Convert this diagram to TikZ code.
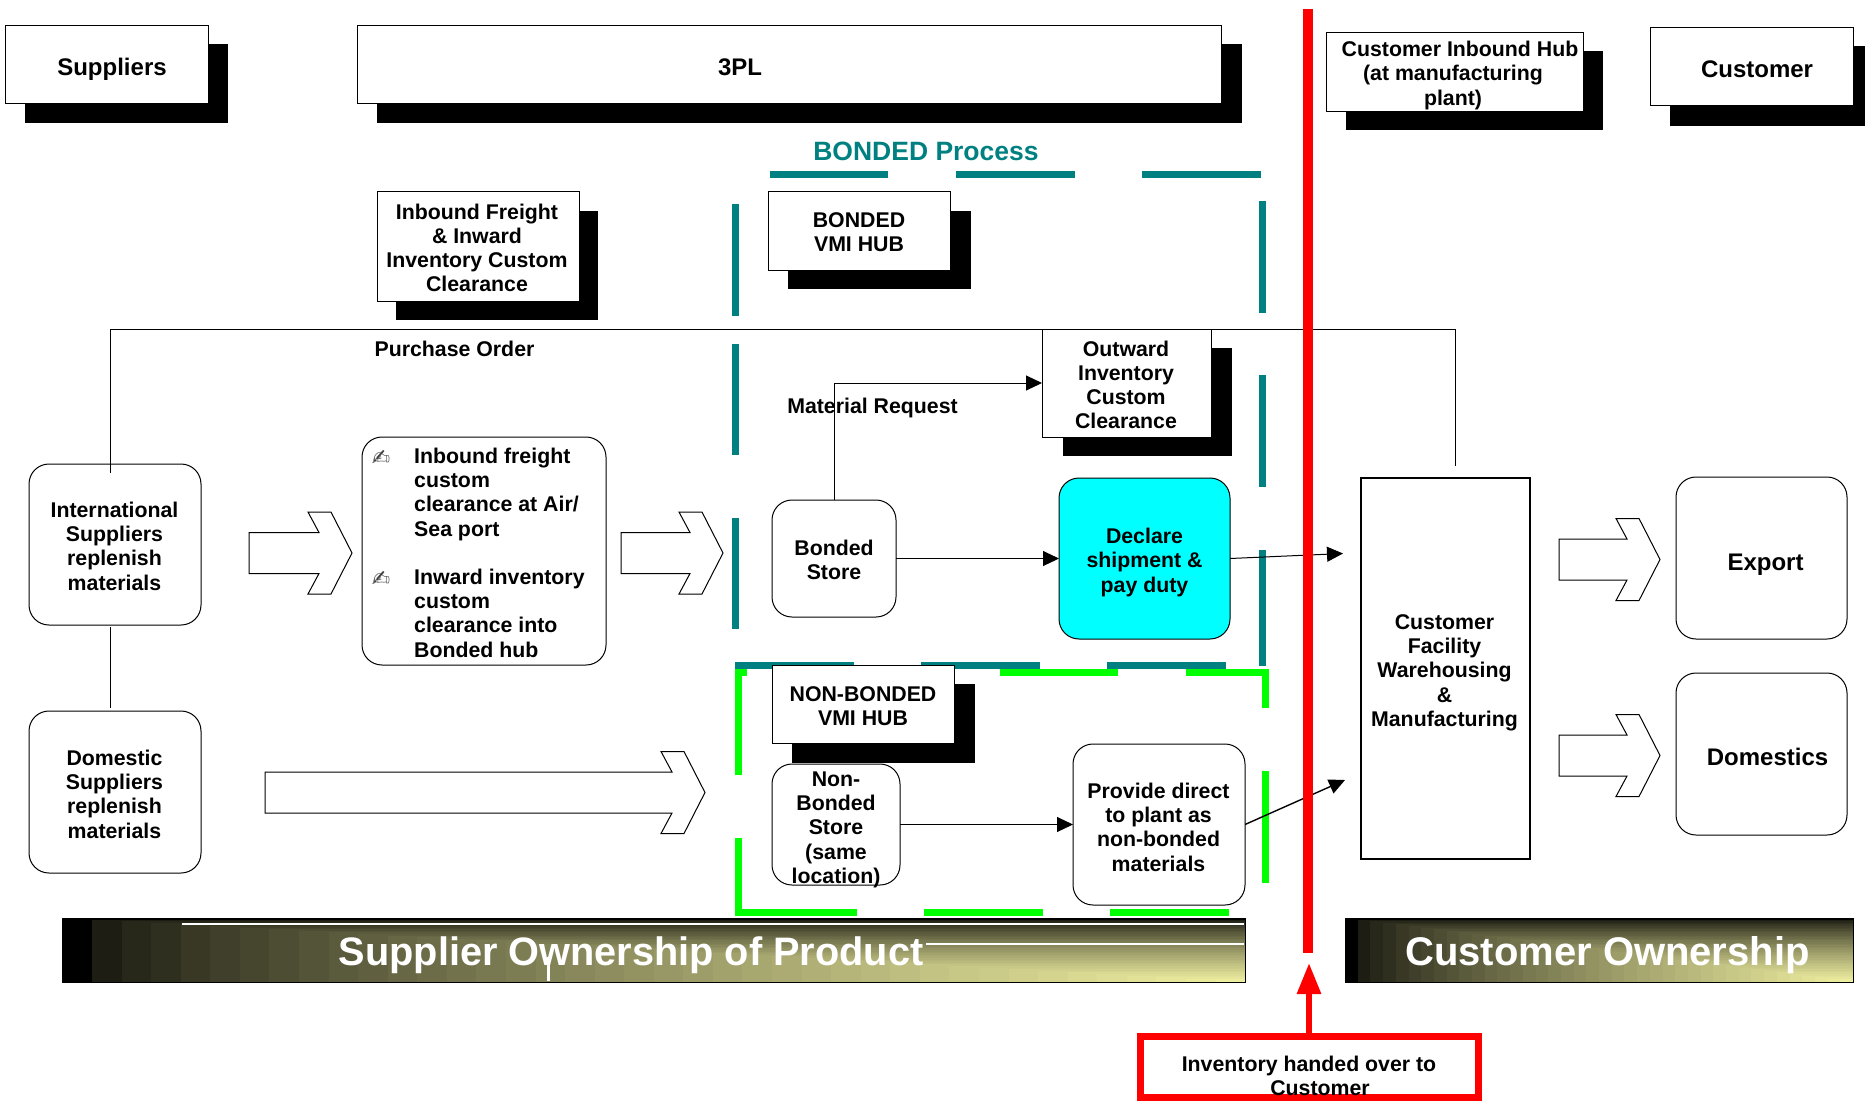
\documentclass[tikz,border=0pt]{standalone}
\usepackage{fontspec}
\setmainfont{Liberation Sans}
\newfontfamily\symfont{DejaVu Sans}
\usetikzlibrary{arrows.meta}
\definecolor{tealc}{RGB}{0,128,128}
\definecolor{barend}{RGB}{238,238,160}
\definecolor{cyanc}{RGB}{0,255,255}
\definecolor{greenc}{RGB}{0,255,0}
\definecolor{redc}{RGB}{255,0,0}
\tikzset{
  sqbox/.style={draw=black,fill=white,line width=1pt,inner sep=0pt,outer sep=0pt},
  shadowbox/.style={fill=black,inner sep=0pt,outer sep=0pt},
  rbox/.style={sqbox,rounded corners=20pt},
  cyanbox/.style={rbox,fill=cyanc},
  hubbox/.style={sqbox,line width=1.6pt},
  redbox/.style={draw=redc,fill=white,line width=7pt,inner sep=0pt,outer sep=0pt},
  barframe/.style={draw=black,line width=1pt,inner sep=0pt,outer sep=0pt},
  txt/.style={font=\fontsize{21.3}{24.2}\selectfont\bfseries,align=center,inner sep=0pt,yshift=-3pt},
  bigtxt/.style={txt,font=\fontsize{24}{27}\selectfont\bfseries},
  tealtxt/.style={txt,font=\fontsize{26.5}{30}\selectfont\bfseries,text=tealc},
  bartxt/.style={txt,font=\fontsize{39.7}{44}\selectfont\bfseries,text=white,yshift=-4pt},
  bul/.style={font=\fontsize{22}{24}\selectfont\symfont,text=black!75,inner sep=0pt},
  conn/.style={draw=black,line width=1pt},
  arr/.style={conn,-{Triangle[length=16pt,width=15pt]}},
  blockarrow/.style={draw=black,fill=white,line width=1pt,line join=miter},
  tealdash/.style={draw=tealc,line width=7pt},
  greendash/.style={draw=greenc,line width=7pt},
  redline/.style={draw=redc,line width=10pt},
  redshaft/.style={draw=redc,line width=6pt},
}
\newcommand{\bx}[6]{%
  \pgfmathsetmacro\cxx{(#3+#5)/2}\pgfmathsetmacro\cyy{(#4+#6)/2}%
  \pgfmathsetmacro\ww{#5-#3}\pgfmathsetmacro\hh{#6-#4}%
  \node[#1,minimum width=\ww pt,minimum height=\hh pt] (#2) at (\cxx,\cyy) {};}
\newcommand{\blk}[3]{%
  \pgfmathsetmacro\a{#2-33}\pgfmathsetmacro\b{#2-44}\pgfmathsetmacro\c{#2-21}%
  \pgfmathsetmacro\ua{#3-20.5}\pgfmathsetmacro\la{#3+20.5}\pgfmathsetmacro\ub{#3-41}\pgfmathsetmacro\lb{#3+41}%
  \draw[blockarrow] (#1,\ua) -- (\a,\ua) -- (\b,\ub) -- (\c,\ub) -- (#2,#3) -- (\c,\lb) -- (\b,\lb) -- (\a,\la) -- (#1,\la) -- cycle;}
\newcommand{\barfill}[4]{%
  \fill[black] (#1,#2) rectangle (#3,#4);
  \foreach \i in {2,...,40}{%
    \pgfmathsetmacro\p{100*(\i/40)^0.7}%
    \pgfmathsetmacro\xa{#1+(#3-#1)/40*(\i-1)}%
    \pgfmathsetmacro\ya{#2+(#4-#2)/40*(\i-1)}%
    \fill[barend!\p!black] (\xa,\ya) rectangle (#3,#4);}}
\begin{document}
\begin{tikzpicture}[x=1pt,y=-1pt]
\useasboundingbox (0,0) rectangle (1865,1101);
% header boxes
\bx{shadowbox}{s1}{25}{44}{228}{123}
\bx{sqbox}{suppliers}{5}{25}{208}{103}
\bx{shadowbox}{s2}{377}{44}{1242}{123}
\bx{sqbox}{tpl}{357}{25}{1221}{103}
\bx{shadowbox}{s3}{1346}{51}{1603}{130}
\bx{sqbox}{inhub}{1326}{32}{1583}{111}
\bx{shadowbox}{s4}{1670}{46}{1865}{126}
\bx{sqbox}{customer}{1650}{27}{1853}{105}
% dashed regions
\draw[tealdash] (770,174) -- (888,174) (956,174) -- (1075,174) (1142,174) -- (1261,174)
  (1262,201) -- (1262,313) (1262,375) -- (1262,487) (1262,550) -- (1262,666)
  (735,204) -- (735,316) (735,344) -- (735,455) (735,518) -- (735,629)
  (735,665) -- (854,665) (921,665) -- (1040,665) (1107,665) -- (1226,665);
\draw[greendash] (747,672) -- (738,672) -- (738,775) (738,838) -- (738,915.5)
  (738,912) -- (857,912) (924,912) -- (1043,912) (1110,912) -- (1229,912)
  (814,672) -- (933,672) (1000,672) -- (1118,672) (1186,672) -- (1265.5,672) -- (1265.5,708)
  (1265.5,771) -- (1265.5,883);
% process boxes
\bx{shadowbox}{s5}{396}{211}{598}{320}
\bx{sqbox}{inbound}{377}{191}{579}{301}
\bx{shadowbox}{s6}{788}{211}{971}{289}
\bx{sqbox}{bvmi}{768}{191}{950}{270}
\bx{rbox}{intl}{29}{464}{201}{625}
\bx{rbox}{domestic}{29}{711}{201}{873}
\bx{rbox}{clear}{362}{437}{606}{665}
\bx{rbox}{bstore}{772}{500}{896}{617}
\bx{cyanbox}{declare}{1059}{478}{1230}{639}
\bx{hubbox}{hub}{1361}{478}{1530}{859}
\bx{rbox}{export}{1676}{477}{1847}{639}
\bx{rbox}{domestics}{1676}{673}{1847}{835}
\bx{shadowbox}{s8}{792}{684}{975}{763}
\bx{sqbox}{nvmi}{772}{665}{954}{743}
\bx{rbox}{nstore}{772}{764}{900}{885}
\bx{rbox}{provide}{1073}{744}{1245}{905}
\bx{shadowbox}{s7}{1063}{348}{1232}{456}
% purchase order line
\coordinate (poa) at (110,473);
\coordinate (pob) at (110,329);
\coordinate (poc) at (1455,329);
\coordinate (pod) at (1455,466);
\draw[conn] (poa) -- (pob) -- (poc) -- (pod);
\bx{sqbox}{outward}{1042}{329}{1211}{437}
% connectors
\coordinate (lda) at (110,627);
\coordinate (ldb) at (110,708);
\draw[conn] (lda) -- (ldb);
\draw[arr] (bstore.north) |- (outward.west);
\draw[arr] (bstore.east) -- (declare.west);
\draw[arr] (nstore.east) -- (provide.west);
\coordinate (decl) at (1343,553.5);
\coordinate (prov) at (1345,780);
\draw[arr] (declare.east) -- (decl);
\draw[arr,line width=1.4pt] (provide.east) -- (prov);
% block arrows
\blk{249}{352}{553}
\blk{621}{723}{553}
\blk{265}{705}{792.5}
\blk{1559}{1660}{559.5}
\blk{1559}{1660}{755.5}
% ownership bars
\barfill{62.5}{918}{1245}{982}
\draw[white,line width=1.5pt] (182,924) -- (1244,924);
\draw[white,line width=1.5pt] (926,944) -- (1244,944);
\draw[white,line width=3pt] (548,957) -- (548,981);
\bx{barframe}{supbar}{62.5}{918}{1245}{982}
\barfill{1345}{918}{1853}{982}
\bx{barframe}{cusbar}{1345}{918}{1853}{982}
% red marker
\coordinate (rta) at (1308,9);
\coordinate (rtb) at (1308,953);
\draw[redline] (rta) -- (rtb);
\bx{redbox}{handover}{1140.5}{1036.5}{1478}{1097.5}
\coordinate (rtip) at (1309,963);
\draw[redshaft,-{Triangle[length=31pt,width=23pt]}] (handover.north -| rtip) -- (rtip);
% texts
\node[bigtxt] (t1) at (112,67) {\strut Suppliers};
\node[bigtxt] (t2) at (740,67) {\strut 3PL};
\node[txt] (t3) at (1453,73) {\strut\hspace*{14pt}Customer Inbound Hub\\(at manufacturing\\plant)\strut};
\node[bigtxt] (t4) at (1757,69) {\strut Customer};
\node[tealtxt] (t5) at (926,151) {\strut BONDED Process};
\node[txt] (t6) at (477,247.5) {\strut Inbound Freight\\\& Inward\\Inventory Custom\\Clearance\strut};
\node[txt] (t7) at (859,232) {\strut BONDED\\VMI HUB\strut};
\node[txt] (t8) at (454.5,349) {\strut Purchase Order};
\node[txt] (t9) at (872.5,406) {\strut Material Request};
\node[txt] (t10) at (1126,384.5) {\strut Outward\\Inventory\\Custom\\Clearance\strut};
\node[txt] (t11) at (114.5,546) {\strut International\\Suppliers\\replenish\\materials\strut};
\node[txt] (t12) at (114.5,794) {\strut Domestic\\Suppliers\\replenish\\materials\strut};
\node[txt,align=left,anchor=west] (t13) at (414,552.5) {\strut Inbound freight\\custom\\clearance at Air/\\Sea port\\[24.2pt]Inward inventory\\custom\\clearance into\\Bonded hub\strut};
\node[bul] (b1) at (381,458) {✍};
\node[bul] (b2) at (381,579) {✍};
\node[txt] (t14) at (834,560) {\strut Bonded\\Store\strut};
\node[txt] (t15) at (1144.5,560) {\strut Declare\\shipment \&\\pay duty\strut};
\node[txt] (t16) at (1444.5,670) {\strut Customer\\Facility\\Warehousing\\\&\\Manufacturing\strut};
\node[bigtxt] (t17) at (1765.5,562) {\strut Export};
\node[bigtxt] (t18) at (1767.5,757) {\strut Domestics};
\node[txt] (t19) at (863,706) {\strut NON-BONDED\\VMI HUB\strut};
\node[txt] (t20) at (836,827) {\strut Non-\\Bonded\\Store\\(same\\location)\strut};
\node[txt] (t21) at (1158.5,827) {\strut Provide direct\\to plant as\\non-bonded\\materials\strut};
\node[bartxt] (t22) at (631,950) {\strut Supplier Ownership of Product};
\node[bartxt,font=\fontsize{40}{44}\selectfont\bfseries] (t23) at (1607.5,950) {\strut Customer Ownership};
\node[txt] (t24) at (1309,1076) {\strut Inventory handed over to\\\hspace*{22pt}Customer\strut};
\end{tikzpicture}
\end{document}
